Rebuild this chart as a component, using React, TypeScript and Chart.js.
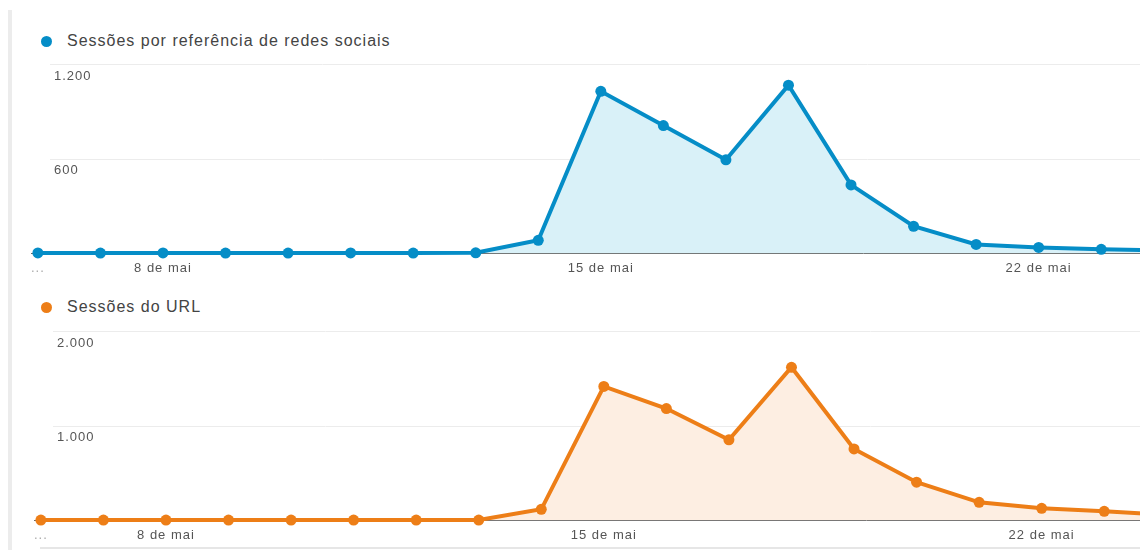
import React, { useEffect, useRef } from 'react';
import { Chart, registerables } from 'chart.js';

Chart.register(...registerables);

// ---- data ----
const days = [
  '6 de mai', '7 de mai', '8 de mai', '9 de mai', '10 de mai', '11 de mai', '12 de mai',
  '13 de mai', '14 de mai', '15 de mai', '16 de mai', '17 de mai', '18 de mai', '19 de mai',
  '20 de mai', '21 de mai', '22 de mai', '23 de mai', '24 de mai',
];
const labeledDays = ['8 de mai', '15 de mai', '22 de mai'];

const socialLabel = 'Sessões por referência de redes sociais';
const socialSessions = [3, 2, 3, 2, 2, 3, 2, 4, 83, 1027, 810, 593, 1066, 434, 172, 57, 38, 26, 19];
const socialTicks = [0, 600, 1200];

const urlLabel = 'Sessões do URL';
const urlSessions = [3, 3, 3, 3, 3, 3, 3, 4, 117, 1415, 1181, 851, 1617, 755, 404, 191, 128, 96, 60];
const urlTicks = [0, 1000, 2000];

const FONT = '"Liberation Sans", Arial, sans-serif';

const fmt = (v: number) => String(v).replace(/\B(?=(\d{3})+(?!\d))/g, '.');

const spacingPlugin = {
  id: 'letterSpacing',
  beforeDraw(chart: any) {
    try { (chart.ctx as any).letterSpacing = '1px'; } catch (e) {}
  },
};

// faint horizontal gridlines (starting right of the date edge) + labels under them
const yAxisPlugin = {
  id: 'yAxisDecor',
  beforeDatasetsDraw(chart: any) {
    const scale = chart.scales.y;
    const ctx = chart.ctx;
    ctx.save();
    ctx.strokeStyle = '#ececec';
    ctx.lineWidth = 1;
    scale.ticks.forEach((t: any) => {
      if (t.value === 0) return;
      const y = Math.round(scale.getPixelForValue(t.value)) + 0.5;
      ctx.beginPath();
      ctx.moveTo(50, y);
      ctx.lineTo(chart.width, y);
      ctx.stroke();
    });
    ctx.restore();
  },
  afterDraw(chart: any) {
    const scale = chart.scales.y;
    const ctx = chart.ctx;
    ctx.save();
    try { ctx.letterSpacing = '1px'; } catch (e) {}
    ctx.font = `13px ${FONT}`;
    ctx.fillStyle = '#555';
    ctx.textAlign = 'left';
    ctx.textBaseline = 'middle';
    scale.ticks.forEach((t: any) => {
      if (t.value === 0) return;
      ctx.fillText(fmt(t.value), 54, scale.getPixelForValue(t.value) + 12);
    });
    ctx.restore();
  },
};

function MiniChart(props: {
  values: number[]; ticks: number[]; color: string; fillColor: string; top: number; left: number;
}) {
  const ref = useRef<HTMLCanvasElement | null>(null);
  useEffect(() => {
    if (!ref.current) return;
    const { values, ticks, color, fillColor } = props;
    const chart = new Chart(ref.current, {
      type: 'line',
      data: {
        datasets: [{
          data: values.map((v, i) => ({ x: i, y: v })),
          borderColor: color,
          backgroundColor: fillColor,
          fill: 'origin',
          borderWidth: 4,
          pointRadius: 5.5,
          pointBackgroundColor: color,
          pointBorderWidth: 0,
          tension: 0,
          clip: false as any,
        }],
      },
      options: {
        animation: false,
        responsive: false,
        maintainAspectRatio: false,
        layout: { autoPadding: false, padding: { left: 31, top: 16, right: 0, bottom: 0 } },
        plugins: { legend: { display: false }, tooltip: { enabled: false } },
        scales: {
          x: {
            type: 'linear',
            min: -0.11,
            max: 17.62,
            afterBuildTicks: (s: any) => {
              s.ticks = [{ value: 0 }, ...labeledDays.map((d) => ({ value: days.indexOf(d) }))];
            },
            afterFit: (s: any) => {
              s.paddingLeft = 0;
              s.paddingRight = 0;
            },
            ticks: {
              padding: 7,
              maxRotation: 0,
              autoSkip: false,
              color: (c: any) => (c.index === 0 ? '#aaa' : '#555'),
              font: { family: FONT, size: 13 },
              callback: (v: any) => {
                const i = Math.round(v);
                return labeledDays.includes(days[i]) ? days[i] : '...';
              },
            },
            grid: { drawOnChartArea: false, drawTicks: false },
            border: { display: true, color: '#666', width: 1 },
          },
          y: {
            min: ticks[0],
            max: ticks[ticks.length - 1],
            afterBuildTicks: (s: any) => {
              s.ticks = ticks.map((v) => ({ value: v }));
            },
            afterFit: (s: any) => {
              s.width = 0;
              s.paddingTop = 0;
              s.paddingBottom = 0;
            },
            ticks: { display: false },
            grid: { display: false },
            border: { display: false },
          },
        },
      },
      plugins: [spacingPlugin, yAxisPlugin],
    } as any);
    return () => chart.destroy();
  }, []);
  return (
    <canvas
      ref={ref}
      width={1140}
      height={235}
      style={{ position: 'absolute', left: props.left, top: props.top, width: 1140, height: 235 }}
    />
  );
}

function Legend(props: { label: string; color: string; top: number }) {
  return (
    <div
      style={{
        position: 'absolute', left: 41, top: props.top, height: 20,
        display: 'flex', alignItems: 'center', fontFamily: FONT, fontSize: 16,
        letterSpacing: '1px', color: '#444', whiteSpace: 'nowrap',
      }}
    >
      <span style={{ display: 'inline-block', width: 11, height: 11, borderRadius: '50%', background: props.color, marginRight: 15 }} />
      <span>{props.label}</span>
    </div>
  );
}

export default function App() {
  return (
    <div style={{ position: 'absolute', left: 0, top: 0, width: 1140, height: 550, overflow: 'hidden', background: '#fff' }}>
      <div style={{ position: 'absolute', left: 8, top: 10, width: 4, height: 540, background: '#ececec' }} />
      <Legend label={socialLabel} color="#058dc7" top={31} />
      <MiniChart values={socialSessions} ticks={socialTicks} color="#058dc7" fillColor="#d9f1f8" top={48} left={0} />
      <Legend label={urlLabel} color="#ed7e17" top={297} />
      <MiniChart values={urlSessions} ticks={urlTicks} color="#ed7e17" fillColor="#fdeee2" top={315} left={3} />
      <div style={{ position: 'absolute', left: 40, top: 547, width: 1100, height: 2, background: '#e6e6e6' }} />
    </div>
  );
}
